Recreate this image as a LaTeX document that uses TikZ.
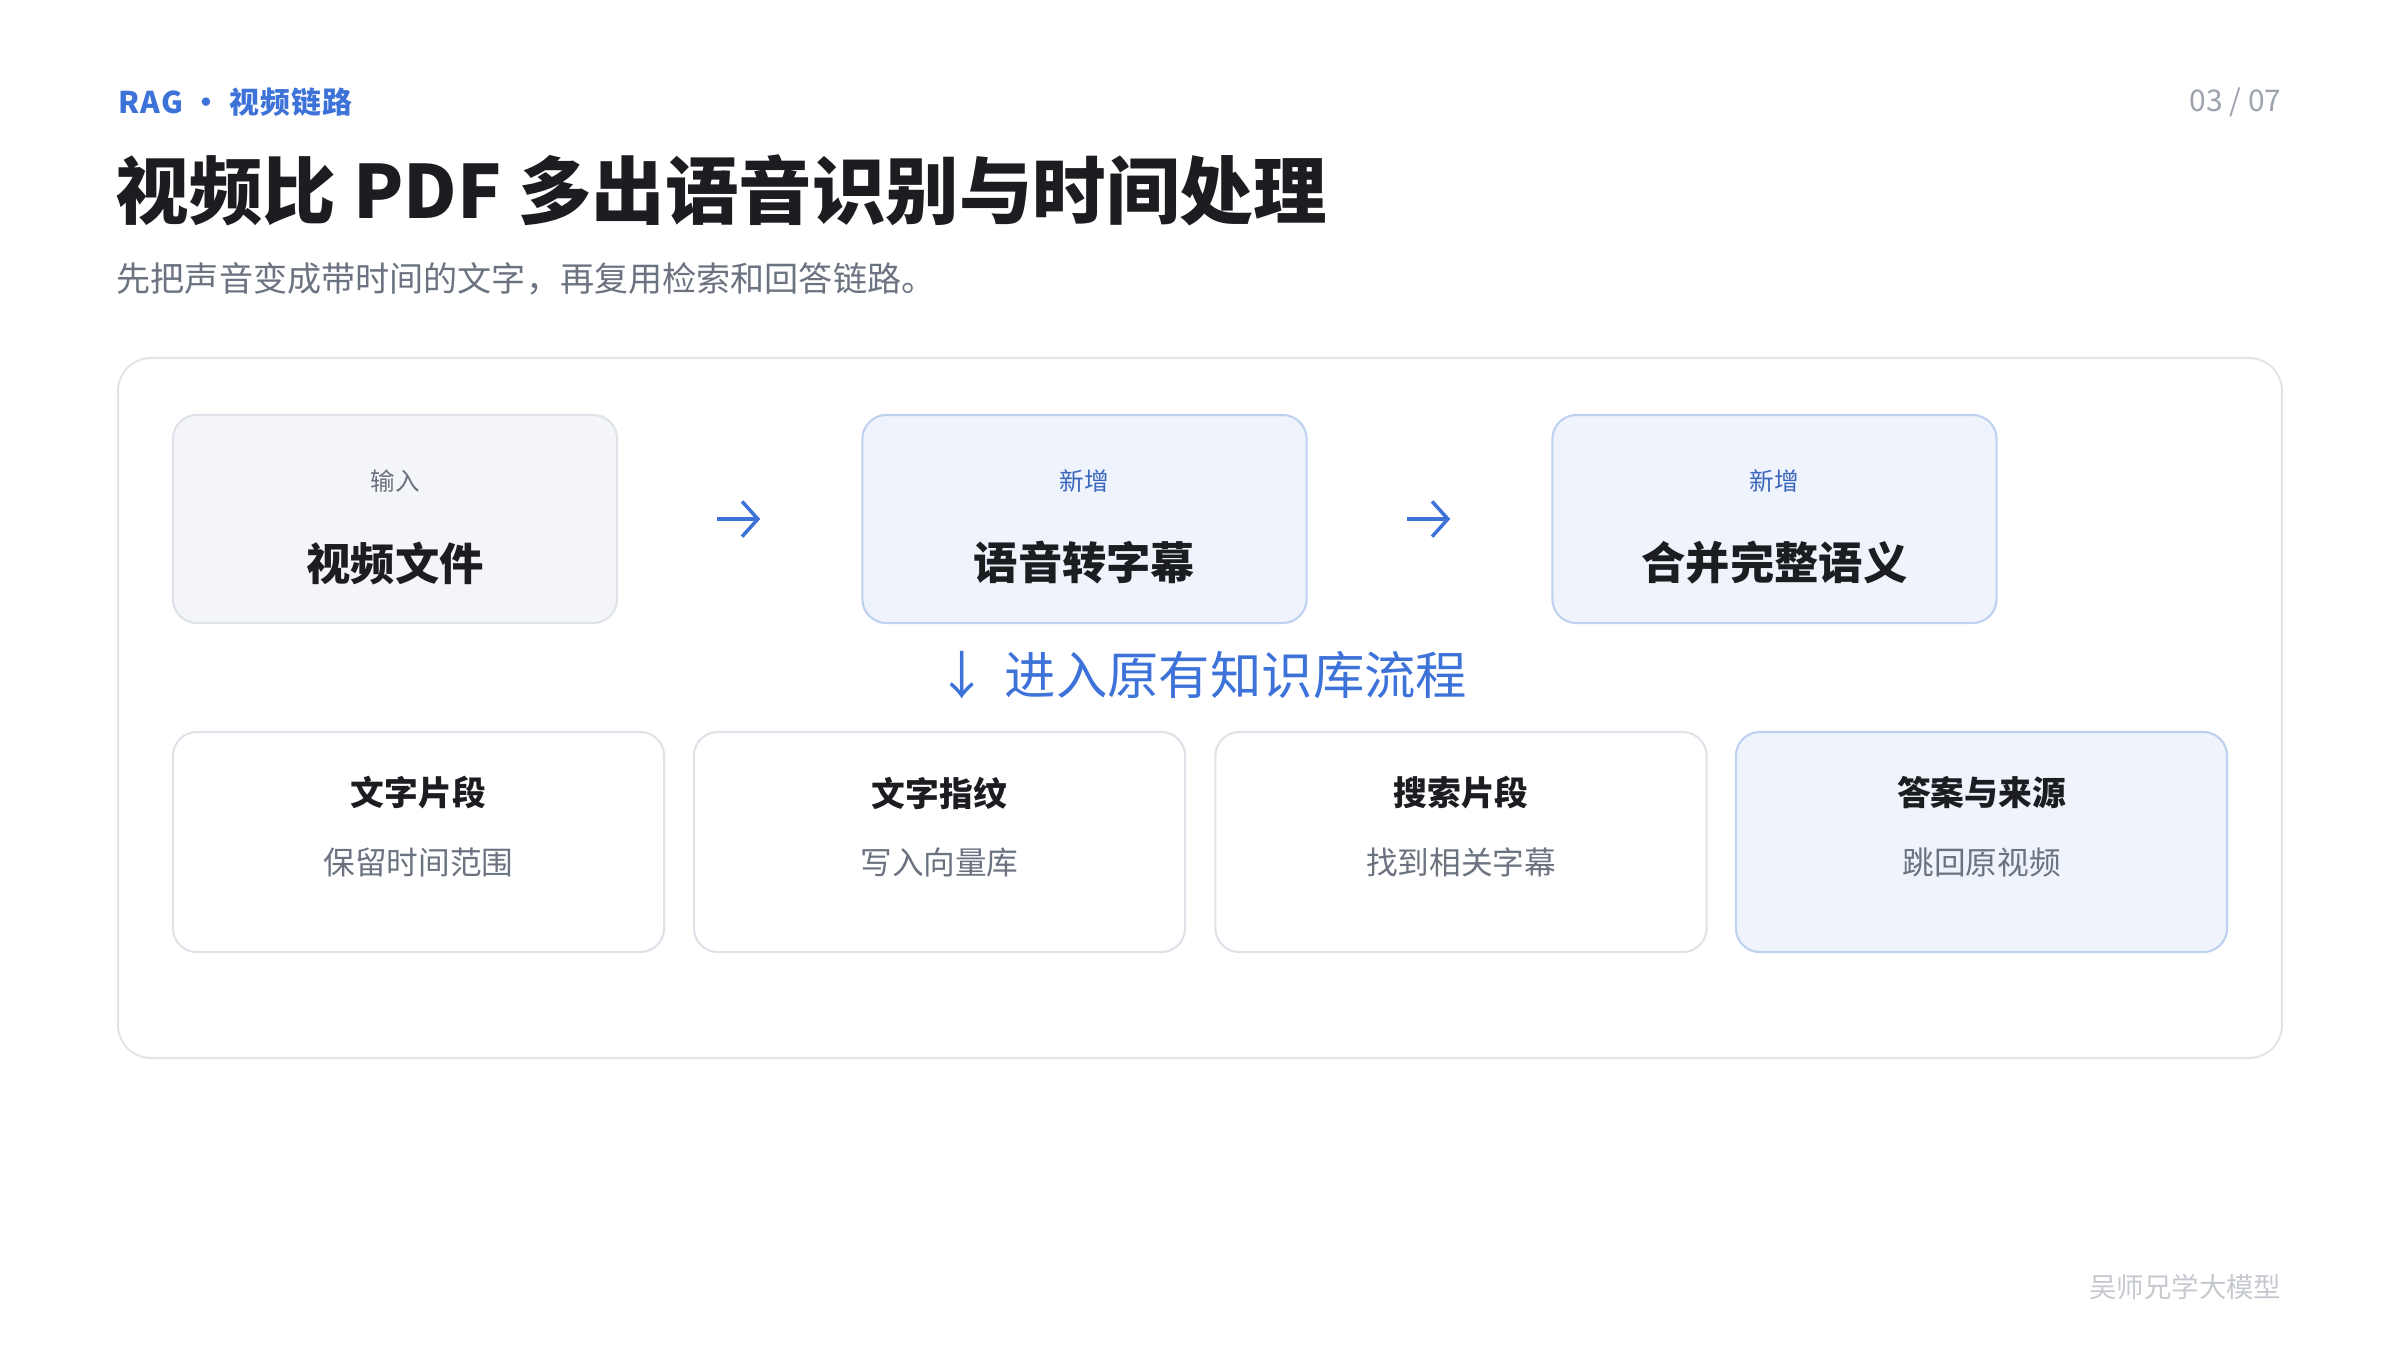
\documentclass[tikz,border=0pt]{standalone}
\usepackage{fontspec}
\setmainfont{Noto Sans CJK SC}
\newfontfamily\heavyfont{Noto Sans CJK SC Black}
\usetikzlibrary{arrows.meta,positioning}
\definecolor{accent}{HTML}{3D72D9}
\definecolor{ink}{HTML}{1B1D21}
\definecolor{muted}{HTML}{6B7280}
\definecolor{faint}{HTML}{C5C9CF}
\definecolor{pagegray}{HTML}{9CA3AD}
\definecolor{newblue}{HTML}{3A67BD}
\definecolor{lineGray}{HTML}{DFE2E8}
\definecolor{panelGray}{HTML}{E3E5E9}
\definecolor{fillGray}{HTML}{F4F5F8}
\definecolor{lineBlue}{HTML}{BED1F0}
\definecolor{fillBlue}{HTML}{EEF3FC}

\begin{document}
\begin{tikzpicture}[x=0.01cm, y=-0.01cm, >={Straight Barb[length=4.5pt,width=10pt]},
  card/.style={draw=lineGray,line width=0.6pt,rounded corners=0.24cm,fill=white,
    minimum width=4.91cm,minimum height=2.2cm,inner sep=0pt},
  newcard/.style={card,draw=lineBlue,fill=fillBlue},
  stage/.style={card,fill=fillGray,minimum width=4.44cm,minimum height=2.08cm},
  newstage/.style={stage,draw=lineBlue,fill=fillBlue},
  kicker/.style={inner sep=0pt,text=muted,font=\fontsize{7}{8}\selectfont},
  newkicker/.style={kicker,text=newblue},
  stagename/.style={inner sep=0pt,text=ink,font=\fontsize{12.6}{14}\selectfont\bfseries},
  cardname/.style={inner sep=0pt,text=ink,font=\fontsize{9.6}{11}\selectfont\bfseries},
  cardnote/.style={inner sep=0pt,text=muted,font=\fontsize{9}{10}\selectfont},
  flow/.style={->,accent,line width=1pt,shorten <=0.99cm,shorten >=1.01cm}]
  \useasboundingbox (0,0) rectangle (2400,1350);
  % header
  \node[anchor=west,inner sep=0pt,text=accent,font=\fontsize{8.5}{10}\selectfont\bfseries\addfontfeatures{LetterSpace=4}] (tag) at (118,102) {RAG · 视频链路};
  \node[anchor=east,inner sep=0pt,text=pagegray,font=\fontsize{8.5}{10}\selectfont] (page) at (2282,102) {03 / 07};
  \node[anchor=west,inner sep=0pt,text=ink,font=\fontsize{20.9}{24}\heavyfont] (title) at (115,190) {视频比 PDF 多出语音识别与时间处理};
  \node[anchor=west,inner sep=0pt,text=muted,font=\fontsize{9.7}{11}\selectfont] (lead) at (116,279) {先把声音变成带时间的文字，再复用检索和回答链路。};
  % panel
  \draw[panelGray,line width=0.6pt,rounded corners=0.33cm] (118,358) rectangle (2282,1058);
  % new steps
  \node[stage] (s1) at (395,519) {};
  \node[newstage] (s2) at (1084.5,519) {};
  \node[newstage] (s3) at (1774.5,519) {};
  \node[kicker] (s1k) at (395,481) {输入};
  \node[stagename] (s1n) at (395,563) {视频文件};
  \node[newkicker] (s2k) at (1084.5,481) {新增};
  \node[stagename] (s2n) at (1084.5,563) {语音转字幕};
  \node[newkicker] (s3k) at (1774.5,481) {新增};
  \node[stagename] (s3n) at (1774.5,563) {合并完整语义};
  \draw[flow] (s1.east) -- (s2.west);
  \draw[flow] (s2.east) -- (s3.west);
  \node[inner sep=0pt,text=accent,font=\fontsize{14.6}{16}\selectfont] (bridge) at (1202,675) {↓\hspace{0.1em} 进入原有知识库流程};
  % old pipeline
  \node[card] (c1) at (418.5,842) {}; \node[card] (c2) at (939.5,842) {};
  \node[card] (c3) at (1461,842) {}; \node[newcard] (c4) at (1981.5,842) {};
  \node[cardname] (c1n) at (418.5,793) {文字片段}; \node[cardnote] (c1t) at (418.5,862) {保留时间范围};
  \node[cardname] (c2n) at (939.5,793) {文字指纹}; \node[cardnote] (c2t) at (939.5,862) {写入向量库};
  \node[cardname] (c3n) at (1461,793) {搜索片段}; \node[cardnote] (c3t) at (1461,862) {找到相关字幕};
  \node[cardname] (c4n) at (1981.5,793) {答案与来源}; \node[cardnote] (c4t) at (1981.5,862) {跳回原视频};
  % footer
  \node[anchor=east,inner sep=0pt,text=faint,font=\fontsize{7.8}{9}\selectfont] (brand) at (2282,1287) {吴师兄学大模型};
\end{tikzpicture}
\end{document}
